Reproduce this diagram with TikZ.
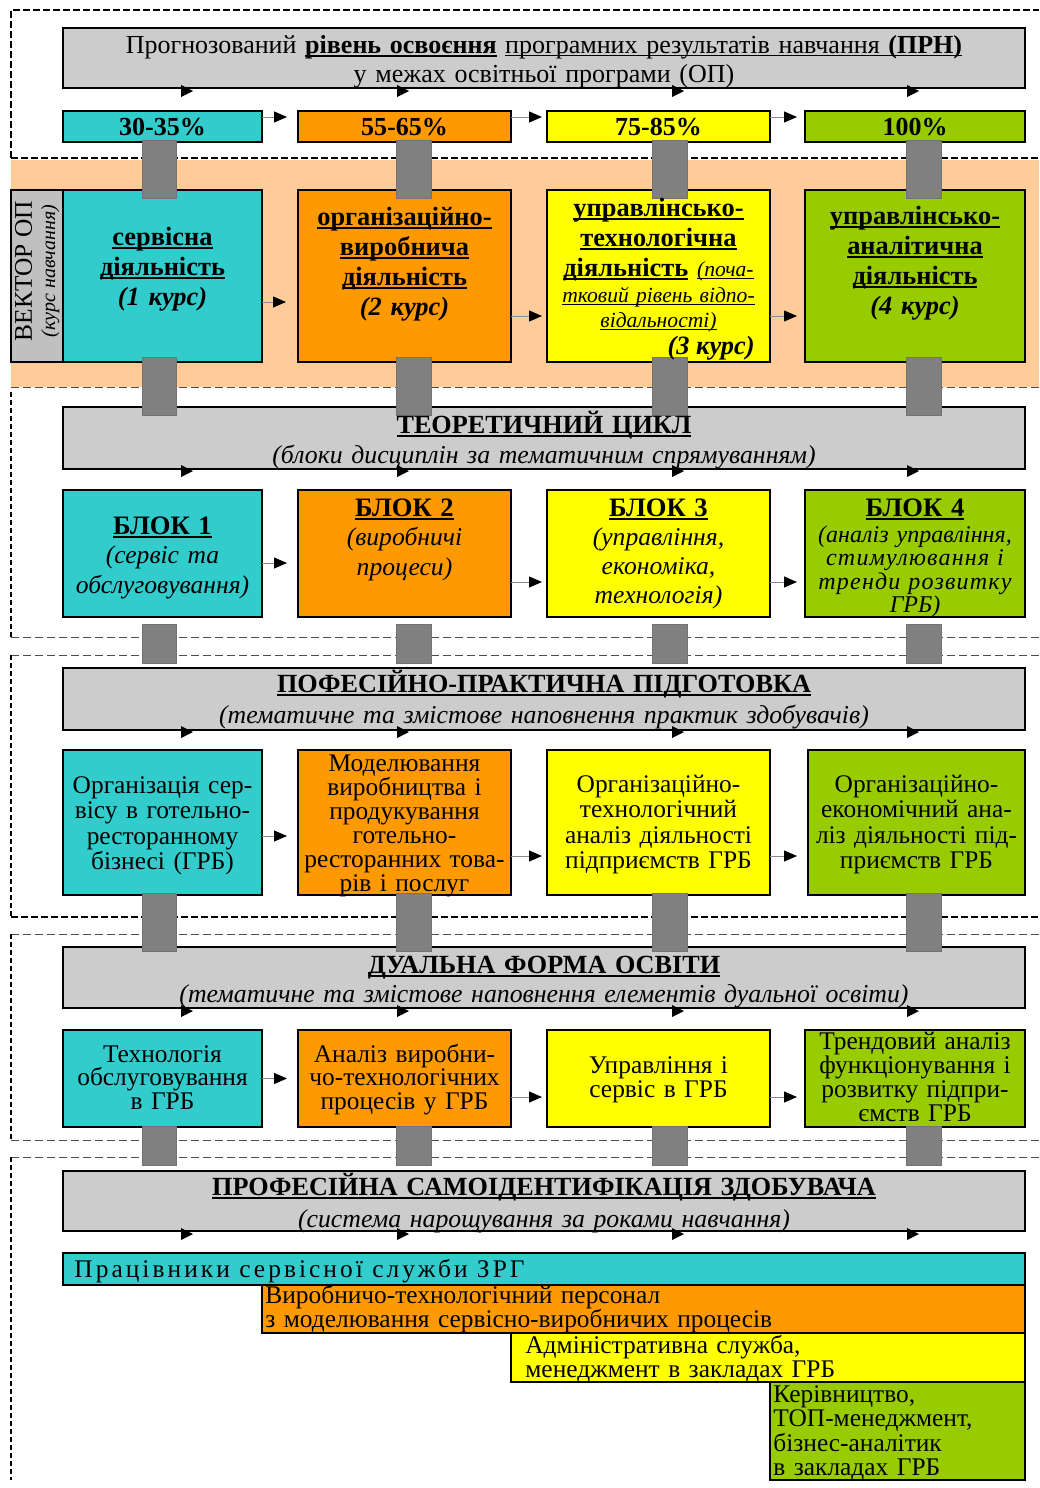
\documentclass[tikz,border=0pt]{standalone}
\usepackage{fontspec}
\setmainfont{Liberation Serif}
\newfontfamily\lsA[LetterSpace=12]{Liberation Serif}
\newfontfamily\lsB[LetterSpace=5]{Liberation Serif}
\usetikzlibrary{arrows.meta,fit}
\definecolor{cy}{HTML}{33CCCC}
\definecolor{orn}{HTML}{FF9900}
\definecolor{yel}{HTML}{FFFF00}
\definecolor{grn}{HTML}{99CC00}
\definecolor{hdr}{HTML}{CCCCCC}
\definecolor{vecc}{HTML}{C0C0C0}
\definecolor{bandc}{HTML}{FFCC99}
\definecolor{barc}{HTML}{808080}
\newcommand\myul[2][0.6pt]{\leavevmode{\setbox0\hbox{#2}\rlap{\lower\dimexpr1pt+#1\relax\hbox{\vrule width\wd0 height #1 depth 0pt}}\box0}}
\newcommand\fs[2]{\fontsize{#1}{#2}\selectfont}
\begin{document}
\begin{tikzpicture}[x=0.5pt,y=-0.5pt,
  box/.style={draw=black,line width=1pt,inner sep=0pt,outer sep=0pt},
  conn/.style={draw=black!45,line width=0.5pt,-{Triangle[length=6.5pt,width=5.5pt,color=black]}},
  bar/.style={fill=barc,draw=black!55,line width=0.4pt},
  tx/.style={inner sep=0pt,outer sep=0pt,anchor=base,align=center},
  hdash/.style={black,line width=1pt,dash pattern=on 3.5pt off 1.5pt},
  ldash/.style={black!70,line width=0.5pt,dash pattern=on 4pt off 2pt},
  vdash/.style={black,line width=1pt,dash pattern=on 2.5pt off 1.5pt}]
\useasboundingbox (0,0) rectangle (1039,1488);
% background band and section frames
\fill[bandc] (11,160) rectangle (1039,387);
\draw[hdash] (11,158) -- (11,10) -- (1039,10);
\draw[hdash] (11,158) -- (1039,158);
\draw[ldash] (11,387) -- (1039,387);
\draw[vdash] (11,392) -- (11,637);
\draw[ldash] (11,637) -- (1039,637);
\draw[ldash] (11,655) -- (1039,655);
\draw[vdash] (11,655) -- (11,917);
\draw[hdash] (11,917) -- (1039,917);
\draw[ldash] (11,934) -- (1039,934);
\draw[vdash] (11,934) -- (11,1140);
\draw[ldash] (11,1140) -- (1039,1140);
\draw[ldash] (11,1157) -- (1039,1157);
\draw[vdash] (11,1157) -- (11,1480);
% headers
\node[box,fill=hdr,fit={(63,28)(1025,88)}] (h1) {};
\node[box,fill=hdr,fit={(63,407)(1025,469)}] (h2) {};
\node[box,fill=hdr,fit={(63,668)(1025,730)}] (h3) {};
\node[box,fill=hdr,fit={(63,947)(1025,1008)}] (h4) {};
\node[box,fill=hdr,fit={(63,1171)(1025,1231)}] (h5) {};
% percent row
\node[box,fill=cy,fit={(63,111)(262,142)}] (p1) {};
\node[box,fill=orn,fit={(298,111)(511,142)}] (p2) {};
\node[box,fill=yel,fit={(547,111)(770,142)}] (p3) {};
\node[box,fill=grn,fit={(805,111)(1025,142)}] (p4) {};
% activity row
\node[box,fill=vecc,fit={(11,190)(63,362)}] (vec) {};
\node[box,fill=cy,fit={(63,190)(262,362)}] (a1) {};
\node[box,fill=orn,fit={(298,190)(511,362)}] (a2) {};
\node[box,fill=yel,fit={(547,190)(770,362)}] (a3) {};
\node[box,fill=grn,fit={(805,190)(1025,362)}] (a4) {};
% blocks row
\node[box,fill=cy,fit={(63,490)(262,617)}] (b1) {};
\node[box,fill=orn,fit={(298,490)(511,617)}] (b2) {};
\node[box,fill=yel,fit={(547,490)(770,617)}] (b3) {};
\node[box,fill=grn,fit={(805,490)(1025,617)}] (b4) {};
% practical row
\node[box,fill=cy,fit={(63,750)(262,895)}] (c1) {};
\node[box,fill=orn,fit={(298,750)(511,895)}] (c2) {};
\node[box,fill=yel,fit={(547,750)(770,895)}] (c3) {};
\node[box,fill=grn,fit={(808,750)(1025,895)}] (c4) {};
% dual row
\node[box,fill=cy,fit={(63,1030)(262,1127)}] (d1) {};
\node[box,fill=orn,fit={(298,1030)(511,1127)}] (d2) {};
\node[box,fill=yel,fit={(547,1030)(770,1127)}] (d3) {};
\node[box,fill=grn,fit={(805,1030)(1025,1127)}] (d4) {};
% staircase
\node[box,fill=cy,fit={(63,1253)(1025,1285)}] (s1) {};
\node[box,fill=orn,fit={(262,1285)(1025,1333)}] (s2) {};
\node[box,fill=yel,fit={(511,1333)(1025,1382)}] (s3) {};
\node[box,fill=grn,fit={(770,1382)(1025,1480)}] (s4) {};
% connectors
\draw[conn] ([yshift=4.75pt]p1.east) -- ([xshift=-5.5pt,yshift=4.75pt]p2.west);
\draw[conn] ([yshift=4.75pt]p2.east) -- ([xshift=-2.5pt,yshift=4.75pt]p3.west);
\draw[conn] ([yshift=4.75pt]p3.east) -- ([xshift=-4pt,yshift=4.75pt]p4.west);
\draw[conn] ([yshift=-13pt]a1.east) -- ([xshift=-6pt,yshift=-13pt]a2.west);
\draw[conn] ([yshift=-20pt]a2.east) -- ([xshift=-2.5pt,yshift=-20pt]a3.west);
\draw[conn] ([yshift=-20pt]a3.east) -- ([xshift=-4pt,yshift=-20pt]a4.west);
\draw[conn] ([yshift=-4.75pt]b1.east) -- ([xshift=-5.5pt,yshift=-4.75pt]b2.west);
\draw[conn] ([yshift=-14.25pt]b2.east) -- ([xshift=-2.5pt,yshift=-14.25pt]b3.west);
\draw[conn] ([yshift=-14.25pt]b3.east) -- ([xshift=-4pt,yshift=-14.25pt]b4.west);
\draw[conn] ([yshift=-6.75pt]c1.east) -- ([xshift=-5.5pt,yshift=-6.75pt]c2.west);
\draw[conn] ([yshift=-16.75pt]c2.east) -- ([xshift=-2.5pt,yshift=-16.75pt]c3.west);
\draw[conn] ([yshift=-16.75pt]c3.east) -- ([xshift=-5.5pt,yshift=-16.75pt]c4.west);
\draw[conn] (d1.east) -- ([xshift=-5.5pt]d2.west);
\draw[conn] ([yshift=-9.25pt]d2.east) -- ([xshift=-2.5pt,yshift=-9.25pt]d3.west);
\draw[conn] ([yshift=-9.25pt]d3.east) -- ([xshift=-4pt,yshift=-9.25pt]d4.west);
% grey vertical bars
\foreach \ya/\yb in {140/198,357/415,624/663,893/951,1126/1165}{
  \foreach \xa/\xb in {142/176,396/431,652/687,906/941}{
    \filldraw[bar] (\xa,\ya) rectangle (\xb,\yb);}}
% small arrowheads on header bottoms
\foreach \yy in {91,471,732,1011,1234}{
  \foreach \bx in {181,397,672,907}{
    \fill (\bx,\yy-6) -- (\bx+12,\yy) -- (\bx,\yy+6) -- cycle;}}
% texts
\node[tx,text width=480pt,font=\fs{13}{14.5}] (h1t) at (544,53)
  {Прогнозований \myul[1pt]{\textbf{рівень освоєння}} \myul{програмних результатів навчання \textbf{(ПРН)}}\\у межах освітньої програми (ОП)};
\node[tx,font=\fs{13}{15}\bfseries] (p1t) at (162.5,135) {30-35\%};
\node[tx,font=\fs{13}{15}\bfseries] (p2t) at (404.5,135) {55-65\%};
\node[tx,font=\fs{13}{15}\bfseries] (p3t) at (658.5,135) {75-85\%};
\node[tx,font=\fs{13}{15}\bfseries] (p4t) at (915,135) {100\%};
\node[tx,rotate=90,font=\fs{12.7}{14}] (vt1) at (32,271) {ВЕКТОР ОП};
\node[tx,rotate=90,font=\fs{10}{12}\itshape] (vt2) at (55,271) {(курс навчання)};
\node[tx,text width=99pt,font=\fs{13.2}{15}\bfseries] (a1t) at (162.5,245)
  {\myul[1pt]{сервісна}\\\myul[1pt]{діяльність}\\\textit{(1 курс)}};
\node[tx,text width=106pt,font=\fs{13.2}{15}\bfseries] (a2t) at (404.5,225)
  {\myul[1pt]{організаційно-}\\\myul[1pt]{виробнича}\\\myul[1pt]{діяльність}\\\textit{(2 курс)}};
\node[tx,text width=111pt,font=\fs{13.2}{15}\bfseries] (a3t) at (658.5,216)
  {\myul[1pt]{управлінсько-}\\\myul[1pt]{технологічна}\\\myul[1pt]{діяльність} {\mdseries\itshape\fs{10.8}{12.5}\myul[0.5pt]{(поча-}}};
\node[tx,text width=111pt,font=\fs{10.8}{12.5}\itshape] (a3s) at (658.5,302)
  {\myul[0.5pt]{тковий рівень відпо-}\\\myul[0.5pt]{відальності)}};
\node[inner sep=0pt,anchor=base east,font=\fs{13.2}{15}\bfseries\itshape] (a3c) at (755,354) {(3 курс)};
\node[tx,text width=110pt,font=\fs{13.2}{15}\bfseries] (a4t) at (915,224)
  {\myul[1pt]{управлінсько-}\\\myul[1pt]{аналітична}\\\myul[1pt]{діяльність}\\\textit{(4 курс)}};
\node[tx,text width=480pt,font=\fs{12.9}{15}] (h2t) at (544,433)
  {\textbf{\fs{13.1}{15}\myul[1pt]{ТЕОРЕТИЧНИЙ ЦИКЛ}}\\\textit{(блоки дисциплін за тематичним спрямуванням)}};
\node[tx,text width=99pt,font=\fs{12.8}{14.75}] (b1t) at (162.5,534)
  {\textbf{\fs{13.3}{14.75}\myul[1pt]{БЛОК 1}}\\\textit{(сервіс та}\\\textit{обслуговування)}};
\node[tx,text width=106pt,font=\fs{12.8}{14.75}] (b2t) at (404.5,516)
  {\textbf{\fs{13.3}{14.75}\myul[1pt]{БЛОК 2}}\\\textit{(виробничі}\\\textit{процеси)}};
\node[tx,text width=111pt,font=\fs{12.8}{14.5}] (b3t) at (658.5,516)
  {\textbf{\fs{13.3}{14.5}\myul[1pt]{БЛОК 3}}\\\textit{(управління,}\\\textit{економіка,}\\\textit{технологія)}};
\node[tx,text width=110pt,font=\fs{13.3}{14.5}\bfseries] (b4t) at (915,516) {\myul[1pt]{БЛОК 4}};
\node[tx,text width=110pt,font=\fs{12}{11.75}\itshape] (b4s) at (915,542)
  {(аналіз управління,\\{\lsB\itshape стимулювання і}\\{\lsB\itshape тренди розвитку}\\ГРБ)};
\node[tx,text width=480pt,font=\fs{12.9}{15.5}] (h3t) at (544,692)
  {\textbf{\fs{13.1}{15.5}\myul[1pt]{ПОФЕСІЙНО-ПРАКТИЧНА ПІДГОТОВКА}}\\\textit{(тематичне та змістове наповнення практик здобувачів)}};
\node[tx,text width=99pt,font=\fs{12.7}{12.75}] (c1t) at (162.5,793)
  {Організація сер-\\вісу в готельно-\\ресторанному\\бізнесі (ГРБ)};
\node[tx,text width=110pt,font=\fs{12.7}{12}] (c2t) at (404.5,771)
  {Моделювання\\виробництва і\\продукування\\готельно-\\ресторанних това-\\рів і послуг};
\node[tx,text width=111pt,font=\fs{12.7}{12.75}] (c3t) at (658.5,792)
  {Організаційно-\\технологічний\\аналіз діяльності\\підприємств ГРБ};
\node[tx,text width=108pt,font=\fs{12.7}{12.75}] (c4t) at (916.5,792)
  {Організаційно-\\економічний ана-\\ліз діяльності під-\\приємств ГРБ};
\node[tx,text width=480pt,font=\fs{12.9}{14.5}] (h4t) at (544,973)
  {\textbf{\fs{13.1}{14.5}\myul[1pt]{ДУАЛЬНА ФОРМА ОСВІТИ}}\\\textit{(тематичне та змістове наповнення елементів дуальної освіти)}};
\node[tx,text width=99pt,font=\fs{12.7}{11.9}] (d1t) at (162.5,1062)
  {Технологія\\обслуговування\\в ГРБ};
\node[tx,text width=106pt,font=\fs{12.7}{11.9}] (d2t) at (404.5,1062)
  {Аналіз виробни-\\чо-технологічних\\процесів у ГРБ};
\node[tx,text width=111pt,font=\fs{12.7}{12}] (d3t) at (658.5,1073)
  {Управління і\\сервіс в ГРБ};
\node[tx,text width=110pt,font=\fs{12.7}{12}] (d4t) at (915,1049)
  {Трендовий аналіз\\функціонування і\\розвитку підпри-\\ємств ГРБ};
\node[tx,text width=480pt,font=\fs{12.9}{16}] (h5t) at (544,1195)
  {\textbf{\fs{13.1}{16}\myul[1pt]{ПРОФЕСІЙНА САМОІДЕНТИФІКАЦІЯ ЗДОБУВАЧА}}\\\textit{(система нарощування за роками навчання)}};
\node[inner sep=0pt,anchor=base west,font=\fs{12.7}{12}\lsA] (s1t) at (74,1277) {Працівники сервісної служби ЗРГ};
\node[inner sep=0pt,anchor=base west,align=left,text width=370pt,font=\fs{12.7}{12}] (s2t) at (265,1303)
  {Виробничо-технологічний персонал\\з моделювання сервісно-виробничих процесів};
\node[inner sep=0pt,anchor=base west,align=left,text width=240pt,font=\fs{12.7}{12}] (s3t) at (525,1353)
  {Адміністративна служба,\\менеджмент в закладах ГРБ};
\node[inner sep=0pt,anchor=base west,align=left,text width=125pt,font=\fs{12.7}{12.25}] (s4t) at (773,1402)
  {Керівництво,\\ТОП-менеджмент,\\бізнес-аналітик\\в закладах ГРБ};
\end{tikzpicture}
\end{document}
